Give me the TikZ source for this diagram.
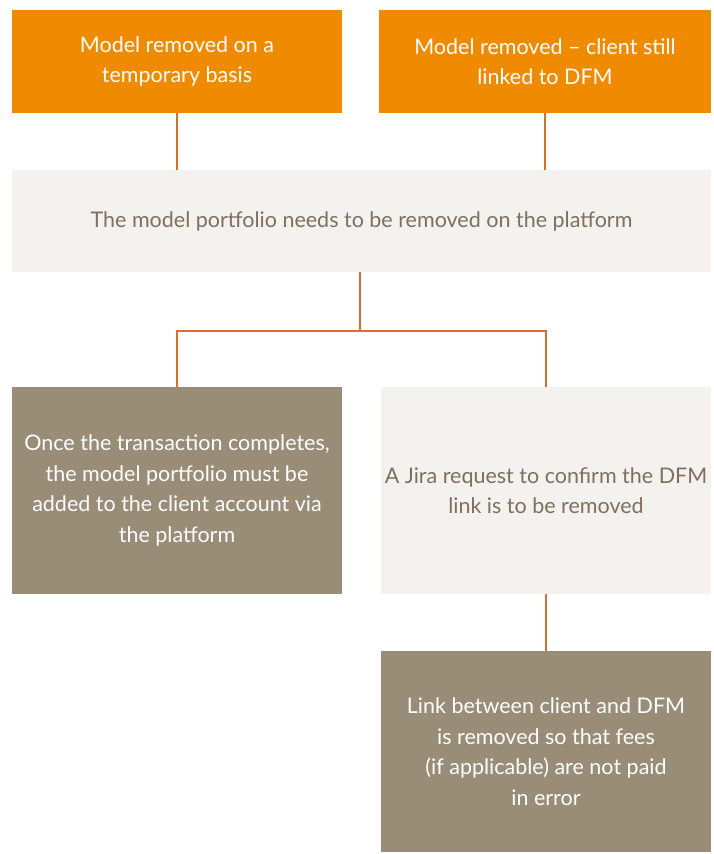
\documentclass[tikz,border=0pt]{standalone}
\usepackage{fontspec}
\setmainfont{Lato}
\definecolor{dfmorange}{HTML}{F08A00}
\definecolor{dfmtaupe}{HTML}{9A8D78}
\definecolor{dfmlight}{HTML}{F4F2EE}
\definecolor{dfmtext}{HTML}{7F6F5F}
\definecolor{dfmline}{HTML}{D66E38}

\begin{document}
\begin{tikzpicture}[x=1pt, y=-1pt,
    box/.style={inner sep=0pt, align=center, font=\fontsize{21.5}{30.5}\selectfont},
    orangebox/.style={box, fill=dfmorange, text=white},
    lightbox/.style={box, fill=dfmlight, text=dfmtext},
    taupebox/.style={box, fill=dfmtaupe, text=white},
    link/.style={draw=dfmline, line width=2pt}]
            \useasboundingbox (0,0) rectangle (713,854);

            \node[orangebox, minimum width=330pt, minimum height=103pt] (temp) at (177,61.5) {Model removed on a\\temporary basis};
            \node[orangebox, minimum width=332pt, minimum height=103pt] (still) at (545,61.5) {Model removed -- client still\\linked to DFM};
            \node[lightbox, minimum width=699pt, minimum height=102pt] (remove) at (361.5,221) {The model portfolio needs to be removed on the platform};
            \node[taupebox, minimum width=330pt, minimum height=207pt] (added) at (177,490.5) {Once the transaction completes,\\the model portfolio must be\\added to the client account via\\the platform};
            \node[lightbox, minimum width=330pt, minimum height=207pt] (jira) at (546,490.5) {A Jira request to confirm the DFM\\link is to be removed};
            \node[taupebox, minimum width=330pt, minimum height=201pt] (unlinked) at (546,751.5) {Link between client and DFM\\is removed so that fees\\(if applicable) are not paid\\in error};

            \coordinate (split) at (360,331);
            \draw[link] (temp.south) -- (temp.south |- remove.north);
            \draw[link] (still.south) -- (still.south |- remove.north);
            \draw[link] (remove.south -| split) -- (split);
            \draw[link] (added.north) -- (added.north |- split) -- (jira.north |- split) -- (jira.north);
            \draw[link] (jira.south) -- (unlinked.north);

        \end{tikzpicture}
\end{document}
